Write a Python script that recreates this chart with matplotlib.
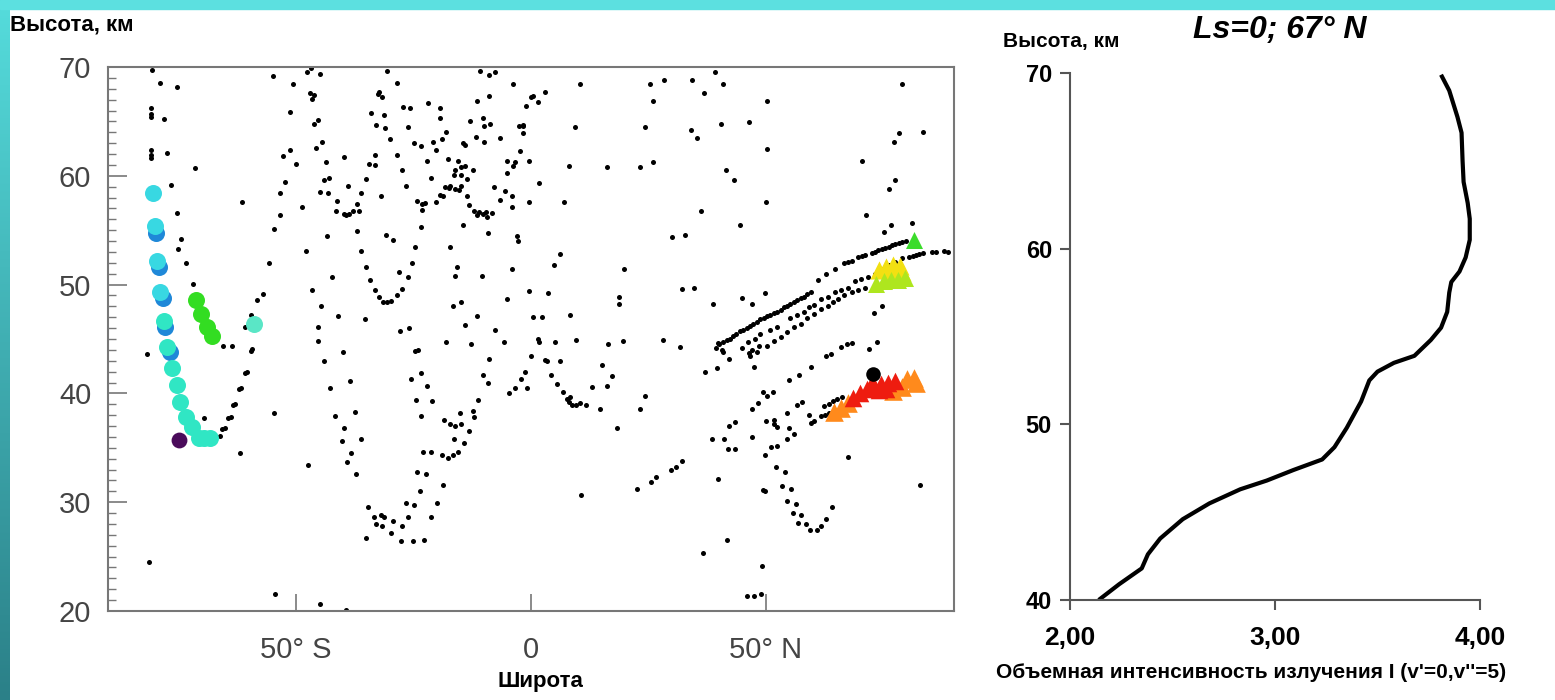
import numpy as np
import matplotlib.pyplot as plt
from matplotlib.colors import LinearSegmentedColormap
from matplotlib.patches import Rectangle

plt.rcParams['font.family'] = ['Liberation Sans', 'DejaVu Sans']

# ---- left panel: black sounding points (latitude, altitude km) ----
dots_south = np.array([
    (-80.6, 69.7), (-78.9, 68.5), (-75.3, 68.2), (-80.8, 66.2), (-80.8, 65.7), (-80.8, 65.4),
    (-78.0, 65.2), (-80.8, 62.4), (-80.8, 61.9), (-80.8, 61.6), (-77.4, 62.1), (-71.4, 60.7),
    (-76.5, 59.2), (-75.3, 56.6), (-74.5, 54.2), (-75.1, 53.3), (-73.4, 52.0), (-72.0, 50.1),
    (-61.5, 57.6), (-60.8, 46.1), (-59.6, 47.2), (-58.4, 48.6), (-57.0, 49.1), (-55.7, 52.0),
    (-54.7, 55.1), (-53.5, 56.4), (-53.5, 58.4), (-52.4, 59.4), (-52.8, 61.8), (-51.3, 62.4),
    (-50.1, 61.1), (-48.8, 57.1), (-54.9, 69.2), (-50.7, 68.4), (-51.2, 65.9), (-47.6, 69.5),
    (-46.8, 69.9), (-44.8, 69.4), (-47.1, 67.6), (-46.6, 67.1), (-46.1, 67.4), (-46.1, 64.8),
    (-45.4, 65.1), (-45.8, 62.6), (-44.5, 63.1), (-43.7, 61.3), (-44.0, 59.6), (-43.0, 59.8),
    (-44.8, 58.5), (-43.2, 58.4), (-39.8, 61.7), (-41.3, 57.7), (-41.4, 56.8), (-39.8, 56.5),
    (-39.3, 56.4), (-38.8, 56.5), (-37.9, 56.8), (-37.1, 57.4), (-36.6, 56.8), (-39.0, 59.1),
    (-36.2, 58.4), (-35.2, 59.7), (-34.4, 61.1), (-33.1, 61.0), (-33.1, 61.9), (-43.5, 54.5),
    (-47.8, 53.1), (-37.1, 54.9), (-36.2, 53.1), (-35.2, 51.6), (-34.2, 50.4), (-33.2, 49.5),
    (-32.4, 48.9), (-31.5, 48.4), (-30.6, 48.4), (-29.8, 48.5), (-28.5, 49.0), (-27.4, 49.6),
    (-28.1, 51.2), (-26.2, 50.7), (-25.3, 52.0), (-30.8, 54.6), (-29.4, 54.1), (-42.3, 50.7),
    (-46.5, 49.5), (-44.7, 48.0), (-41.0, 47.1), (-35.3, 46.8), (-45.3, 46.1), (-27.8, 45.7),
    (-25.9, 46.0), (-30.6, 69.6), (-28.5, 68.5), (-32.4, 67.7), (-32.5, 67.5), (-31.7, 67.2),
    (-34.0, 65.8), (-31.3, 65.6), (-32.9, 64.7), (-31.0, 64.4), (-29.9, 63.4), (-28.6, 61.9),
    (-27.5, 60.5), (-26.5, 59.1), (-31.9, 58.1), (-27.2, 66.3), (-25.8, 66.2), (-26.1, 64.5),
    (-22.0, 66.7), (-19.3, 66.2), (-19.3, 65.3), (-24.8, 63.0), (-23.3, 62.7), (-22.1, 61.4),
    (-21.3, 59.8), (-24.2, 57.7), (-23.2, 57.4), (-22.5, 57.5), (-20.2, 57.6), (-23.2, 56.9),
    (-23.3, 55.3), (-24.6, 53.5), (-19.3, 58.2), (-18.7, 58.1), (-18.2, 59.0), (-17.5, 58.9),
    (-17.2, 59.1), (-16.1, 58.8), (-15.4, 58.7), (-14.8, 59.1), (-13.6, 58.1), (-13.7, 59.7),
    (-15.0, 60.1), (-16.1, 60.5), (-16.4, 60.1), (-15.5, 61.4), (-14.9, 60.8), (-14.0, 60.9),
    (-12.3, 60.5), (-13.1, 57.3), (-12.2, 56.8), (-11.1, 56.7), (-10.2, 56.5), (-9.5, 56.7),
    (-9.4, 56.2), (-8.2, 56.6), (-11.5, 56.4), (-18.9, 63.4), (-18.1, 64.0), (-20.8, 63.1),
    (-20.2, 62.4), (-17.7, 61.5), (-14.5, 55.5), (-17.3, 53.5), (-16.1, 50.8), (-15.7, 51.6),
    (-16.7, 48.0), (-14.9, 48.4), (-11.5, 47.1), (-14.0, 46.3), (-7.7, 45.8), (-10.4, 50.8),
    (-9.1, 54.7), (-7.8, 59.0), (-6.5, 57.8), (-5.5, 58.6), (-5.2, 60.3), (-5.1, 61.4),
    (-3.8, 60.9), (-3.3, 61.3), (-4.0, 58.1), (-4.0, 57.1), (-3.0, 54.5), (-2.8, 54.0),
    (-4.0, 51.4), (-5.1, 48.7), (-13.0, 65.0), (-11.5, 66.9), (-10.2, 65.3), (-10.1, 64.6),
    (-8.8, 64.8), (-11.6, 63.6), (-10.1, 63.1), (-9.0, 67.3), (-6.7, 63.5), (-3.8, 68.4),
    (-10.8, 69.6), (-9.0, 69.3), (-7.6, 69.5), (-2.6, 64.6), (-1.6, 64.6), (-1.7, 63.9),
    (-2.3, 62.3), (-14.5, 63.0), (-14.0, 62.8),
])

dots_north = np.array([
    (-1.1, 66.4), (-0.1, 67.2), (0.4, 67.3), (1.4, 66.8), (3.0, 67.7), (10.4, 68.4),
    (-1.7, 64.7), (-0.4, 61.4), (1.7, 59.3), (-0.4, 57.6), (7.0, 57.6), (8.1, 60.9),
    (9.4, 64.5), (16.2, 60.8), (23.1, 60.8), (26.0, 61.3), (24.3, 64.5), (25.3, 68.4),
    (28.3, 68.8), (26.0, 66.9), (34.3, 68.8), (39.2, 69.5), (40.9, 68.4), (36.8, 67.6),
    (34.0, 64.2), (35.4, 63.5), (40.4, 64.8), (46.4, 64.9), (50.3, 66.9), (50.3, 62.5),
    (41.4, 60.5), (43.2, 59.6), (49.9, 57.6), (36.1, 56.8), (44.5, 55.5), (29.9, 54.4),
    (32.7, 54.6), (6.1, 52.8), (4.8, 51.8), (19.8, 51.4), (-0.4, 49.4), (3.7, 49.2),
    (0.5, 47.0), (2.3, 47.0), (8.4, 47.2), (18.7, 48.9), (18.7, 48.2), (32.2, 49.6),
    (34.7, 49.7), (38.8, 48.2), (44.9, 48.8), (47.1, 48.2), (49.7, 49.2), (79.0, 68.4),
    (78.3, 63.9), (77.2, 63.1), (83.4, 64.0), (70.5, 61.4), (77.4, 59.6), (76.2, 58.8),
    (71.3, 56.4), (76.5, 55.5), (75.1, 54.8), (81.1, 55.7), (73.0, 47.4), (74.6, 48.0),
    (85.3, 53.0), (87.9, 53.1),
])

dots_low_south = np.array([
    (-81.7, 43.6), (-81.2, 24.5), (-65.5, 44.4), (-63.7, 44.4), (-59.3, 44.1), (-59.6, 43.9),
    (-60.4, 42.0), (-60.8, 41.9), (-61.8, 40.5), (-62.2, 40.4), (-62.9, 39.0), (-63.4, 38.9),
    (-63.9, 37.8), (-64.5, 37.7), (-65.2, 36.8), (-65.7, 36.7), (-66.1, 36.1), (-69.5, 37.7),
    (-62.0, 34.5), (-54.6, 38.2), (-54.5, 21.6), (-44.8, 20.6), (-39.4, 20.1), (-47.5, 33.4),
    (-45.3, 44.8), (-44.1, 43.0), (-39.9, 43.8), (-42.8, 40.5), (-38.6, 41.1), (-41.6, 37.9),
    (-37.5, 38.3), (-39.7, 36.8), (-40.3, 35.6), (-36.1, 35.8), (-38.4, 34.5), (-39.1, 33.7),
    (-37.2, 32.6), (-18.1, 44.7), (-12.7, 44.5), (-5.8, 44.7), (-24.6, 43.9), (-24.1, 44.0),
    (-25.5, 41.3), (-23.4, 41.9), (-22.1, 40.7), (-24.4, 39.4), (-21.0, 39.3), (-23.3, 37.9),
    (-18.6, 37.6), (-17.3, 37.2), (-16.1, 37.0), (-14.9, 37.2), (-15.2, 38.2), (-12.4, 38.4),
    (-12.2, 37.8), (-13.2, 36.5), (-14.3, 35.4), (-16.4, 35.8), (-15.6, 34.6), (-16.6, 34.3),
    (-17.7, 34.1), (-18.9, 34.3), (-21.2, 34.6), (-23.0, 34.6), (-24.2, 32.8), (-22.3, 32.6),
    (-18.8, 31.6), (-23.7, 31.0), (-26.7, 29.9), (-24.8, 29.7), (-20.1, 29.9), (-21.3, 28.6),
    (-26.2, 28.6), (-27.4, 27.8), (-29.4, 28.3), (-31.3, 28.6), (-32.0, 28.8), (-33.5, 28.6),
    (-32.9, 28.0), (-31.7, 27.8), (-34.7, 29.6), (-35.2, 26.7), (-29.8, 27.2), (-27.6, 26.4),
    (-25.1, 26.4), (-22.7, 26.5), (-11.3, 39.4), (-8.9, 43.2), (-10.3, 41.7), (-9.2, 41.0),
    (-4.6, 40.0), (-3.3, 40.5), (-2.1, 41.3), (-1.2, 42.0),
])

dots_low_north = np.array([
    (1.4, 45.0), (1.8, 44.7), (0.1, 43.4), (-0.8, 40.5), (3.0, 43.1), (3.4, 43.0),
    (4.2, 41.7), (5.6, 40.9), (6.2, 43.0), (5.1, 44.7), (9.6, 44.9), (6.9, 40.1),
    (7.6, 39.5), (8.3, 39.7), (8.1, 39.2), (8.8, 38.9), (9.5, 38.9), (10.4, 39.1),
    (11.6, 38.9), (12.9, 40.6), (14.6, 38.6), (15.2, 42.6), (16.2, 40.7), (17.3, 41.6),
    (16.4, 44.5), (19.6, 44.8), (18.2, 36.8), (10.6, 30.7), (23.2, 38.6), (24.3, 39.8),
    (28.1, 44.9), (31.6, 44.3), (22.6, 31.2), (25.5, 31.9), (26.7, 32.3), (29.7, 33.0),
    (30.8, 33.2), (32.2, 33.8), (39.8, 32.1), (36.7, 25.3), (41.6, 26.5), (49.1, 24.1),
    (46.0, 21.4), (47.4, 21.4), (48.9, 21.6), (37.0, 42.0), (39.5, 42.3), (42.1, 43.2),
    (40.7, 44.0), (47.4, 42.4), (38.6, 35.8), (41.1, 35.8), (42.1, 37.0), (43.4, 37.4),
    (42.0, 34.9), (43.4, 34.9), (47.0, 36.0), (47.0, 38.6), (48.2, 39.1), (49.4, 40.1),
    (50.3, 39.8), (51.4, 40.1), (49.9, 37.5), (51.7, 37.6), (52.3, 36.9), (51.6, 37.2),
    (49.8, 34.3), (51.0, 35.1), (52.4, 35.2), (54.5, 38.2), (54.8, 36.8), (54.4, 35.8),
    (55.9, 36.3), (56.7, 38.9), (57.6, 39.2), (59.2, 38.0), (59.5, 37.3), (60.2, 37.5),
    (54.8, 41.2), (57.0, 41.7), (59.5, 42.4), (62.7, 43.4), (63.8, 43.6), (65.9, 44.3),
    (67.3, 44.5), (68.2, 44.6), (72.0, 44.1), (73.7, 44.7), (49.4, 31.1), (49.8, 31.0),
    (52.1, 33.2), (54.0, 32.8), (53.5, 31.5), (55.3, 31.2), (54.5, 30.1), (56.3, 29.8),
    (55.8, 29.0), (57.5, 28.8), (56.9, 28.1), (58.6, 28.0), (59.3, 27.4), (60.9, 27.4),
    (61.8, 27.8), (62.7, 28.5), (64.0, 29.6), (67.5, 34.2), (82.7, 31.6), (39.7, 44.6),
    (46.4, 43.7), (47.1, 44.0), (48.5, 44.4), (62.3, 38.8), (63.3, 39.0), (64.3, 39.3),
    (65.2, 39.5), (66.2, 39.7), (61.6, 37.9), (62.5, 38.0), (63.4, 38.2),
])

# three tracks of closely spaced points north of 40 N
band_upper = np.array([
    (39.4, 44.2), (40.1, 44.5), (40.9, 44.7), (41.6, 44.9), (42.3, 45.0), (43.0, 45.3),
    (43.7, 45.5), (44.5, 45.7), (45.2, 45.8), (45.9, 46.0), (46.6, 46.2), (47.3, 46.4),
    (48.0, 46.6), (48.8, 46.8), (49.5, 46.9), (50.2, 47.1), (50.9, 47.2), (51.6, 47.4),
    (52.4, 47.5), (53.1, 47.7), (53.8, 47.9), (54.5, 48.0), (55.2, 48.2), (56.0, 48.4),
    (56.7, 48.6), (57.4, 48.8), (58.1, 48.9), (58.8, 49.1), (59.6, 49.3), (61.0, 50.4),
    (62.8, 51.0), (64.6, 51.4), (66.7, 52.0), (67.5, 52.1), (68.2, 52.2), (69.6, 52.5),
    (70.4, 52.6), (71.1, 52.7), (72.5, 52.9), (73.2, 53.0), (73.9, 53.2), (74.7, 53.3),
    (75.4, 53.4), (76.1, 53.5), (76.8, 53.6), (77.5, 53.7), (78.3, 53.8), (79.0, 53.9),
    (79.7, 54.0),
])

band_middle = np.array([
    (40.9, 43.8), (44.8, 44.2), (46.2, 44.7), (47.7, 45.0), (48.8, 45.5), (50.9, 45.8),
    (52.4, 46.1), (55.2, 46.9), (56.7, 47.2), (58.1, 47.5), (59.2, 47.9), (60.3, 48.1),
    (61.7, 48.7), (63.1, 48.9), (64.6, 49.3), (66.0, 49.5), (67.5, 49.7), (68.9, 50.3),
    (70.3, 50.5), (71.8, 50.7), (73.2, 51.0), (74.7, 51.4), (76.1, 51.8), (77.5, 52.1),
    (79.0, 52.4), (80.4, 52.5), (81.2, 52.6), (81.9, 52.7), (82.6, 52.8), (83.3, 52.9),
    (86.2, 53.0), (88.7, 53.0),
])

band_lower = np.array([
    (46.6, 43.4), (48.0, 43.8), (50.2, 44.4), (51.6, 44.8), (53.1, 45.2), (54.5, 45.6),
    (56.0, 46.1), (57.4, 46.4), (58.8, 46.9), (60.3, 47.3), (61.7, 47.8), (63.1, 48.0),
    (64.2, 48.4), (65.3, 48.7), (66.7, 49.0), (68.2, 49.3), (69.6, 49.5), (71.1, 49.7),
])

# coloured markers
circ_blue = np.array([(-79.7, 54.7), (-79.1, 51.6), (-78.3, 48.8), (-77.8, 46.1), (-76.9, 43.8)])
circ_cyan = np.array([(-80.5, 58.4), (-80.0, 55.4), (-79.5, 52.2), (-78.9, 49.3)])
circ_teal = np.array([
    (-78.1, 46.7), (-77.4, 44.3), (-76.3, 42.3), (-75.4, 40.8), (-74.6, 39.2),
    (-73.4, 37.8), (-72.1, 36.9), (-70.7, 35.9), (-69.5, 35.9), (-68.3, 35.9),
])
circ_green = np.array([(-71.3, 48.6), (-70.2, 47.3), (-69.0, 46.1), (-67.9, 45.3)])
circ_single = np.array([(-58.9, 46.4)])
circ_purple = np.array([(-75.0, 35.7)])
circ_black = np.array([(72.7, 41.8)])

tri_green = np.array([(81.5, 54.1)])
tri_yellow = np.array([(74.0, 51.3), (75.5, 51.6), (77.0, 51.8), (78.5, 51.7),
                       (76.0, 50.9), (77.5, 51.0), (79.0, 51.2)])
tri_lime = np.array([(73.5, 50.1), (75.0, 50.3), (76.5, 50.4), (78.0, 50.4), (79.5, 50.6)])
tri_orange = np.array([(64.5, 38.3), (66.0, 38.7), (67.5, 39.1), (80.0, 41.3), (81.5, 41.4),
                       (82.0, 41.0), (79.0, 40.6), (77.0, 40.2)])
tri_red = np.array([(68.5, 39.6), (70.0, 40.0), (71.5, 40.4), (73.0, 40.7), (74.5, 40.9),
                    (76.0, 41.0), (77.5, 41.1), (72.5, 41.0), (74.0, 40.3), (75.5, 40.4)])

# ---- right panel: emission profile at Ls=0, 67 N ----
intensity = [3.81, 3.85, 3.89, 3.91, 3.915, 3.92, 3.94, 3.95, 3.95, 3.93, 3.90, 3.86, 3.85,
             3.84, 3.81, 3.76, 3.68, 3.58, 3.50, 3.46, 3.42, 3.35, 3.29, 3.23, 3.09, 2.96,
             2.83, 2.68, 2.55, 2.44, 2.38, 2.35, 2.24, 2.14]
height = [69.9, 69.0, 67.5, 66.6, 65.0, 63.8, 62.6, 61.7, 60.5, 59.5, 58.7, 58.1, 57.5,
          56.4, 55.5, 54.8, 53.9, 53.5, 53.0, 52.5, 51.3, 49.8, 48.7, 48.0, 47.4, 46.8,
          46.3, 45.5, 44.6, 43.5, 42.6, 41.8, 40.9, 40.0]

W, H = 1555, 700
fig = plt.figure(figsize=(W / 100, H / 100), dpi=100)

# teal frame of the slide
bg = fig.add_axes([0, 0, 10 / W, 1])
grad = np.linspace(0, 1, 256).reshape(-1, 1)
bg.imshow(grad, aspect='auto', cmap=LinearSegmentedColormap.from_list('fr', ['#55dcdc', '#2b8088']))
bg.axis('off')
fig.patches.append(Rectangle((0, 1 - 9 / H), 1, 9 / H, transform=fig.transFigure,
                             color='#5ce0e0', zorder=5))

# ---- left panel ----
ax = fig.add_axes([108 / W, 1 - 611 / H, 846 / W, 544 / H])
for d in (dots_south, dots_north, dots_low_south, dots_low_north, band_upper, band_middle, band_lower):
    ax.scatter(d[:, 0], d[:, 1], s=13, c='black', lw=0, zorder=2)

ax.scatter(circ_blue[:, 0], circ_blue[:, 1], s=150, c='#1f88d8', lw=0, zorder=3)
ax.scatter(circ_cyan[:, 0], circ_cyan[:, 1], s=150, c='#38d8e2', lw=0, zorder=4)
ax.scatter(circ_teal[:, 0], circ_teal[:, 1], s=150, c='#30e6c4', lw=0, zorder=4)
ax.scatter(circ_green[:, 0], circ_green[:, 1], s=150, c='#33dd22', lw=0, zorder=4)
ax.scatter(circ_single[:, 0], circ_single[:, 1], s=150, c='#5ae6c6', lw=0, zorder=4)
ax.scatter(circ_purple[:, 0], circ_purple[:, 1], s=130, c='#4a0b5a', lw=0, zorder=4)

ax.scatter(tri_green[:, 0], tri_green[:, 1], s=150, marker='^', c='#3cdc2c', lw=0, zorder=4)
ax.scatter(tri_yellow[:, 0], tri_yellow[:, 1], s=170, marker='^', c='#f2e012', lw=0, zorder=4)
ax.scatter(tri_lime[:, 0], tri_lime[:, 1], s=150, marker='^', c='#aee61e', lw=0, zorder=5)
ax.scatter(tri_orange[:, 0], tri_orange[:, 1], s=180, marker='^', c='#ff8a1c', lw=0, zorder=4)
ax.scatter(tri_red[:, 0], tri_red[:, 1], s=160, marker='^', c='#ee1c10', lw=0, zorder=5)
ax.scatter(circ_black[:, 0], circ_black[:, 1], s=110, c='black', lw=0, zorder=6)

ax.set_xlim(-90, 90)
ax.set_ylim(20, 70)
ax.set_xticks([-50, 0, 50])
ax.set_xticklabels(['50° S', '0', '50° N'])
ax.set_yticks(range(20, 71, 10))
ax.set_yticks(range(20, 71), minor=True)
ax.tick_params(axis='x', direction='in', length=12, width=1.2, color='#777',
               labelsize=21, labelcolor='#444', pad=18)
ax.tick_params(axis='y', which='major', direction='in', length=14, width=1.2, color='#777',
               labelsize=21, labelcolor='#444', pad=12)
ax.tick_params(axis='y', which='minor', direction='in', length=6, width=1, color='#777')
for sp in ax.spines.values():
    sp.set_color('#777')
    sp.set_linewidth(1.5)

fig.text(10 / W, 1 - 25 / H, 'Высота, км', fontsize=16, fontweight='bold', va='center')
fig.text(540 / W, 1 - 681 / H, 'Широта', fontsize=16, fontweight='bold', ha='center', va='center')

# ---- right panel ----
ax2 = fig.add_axes([1070 / W, 1 - 600 / H, 410 / W, 527 / H])
ax2.plot(intensity, height, color='black', lw=3, solid_capstyle='butt')
ax2.set_xlim(2, 4)
ax2.set_ylim(40, 70)
ax2.set_xticks([2, 3, 4])
ax2.set_xticklabels(['2,00', '3,00', '4,00'])
ax2.set_yticks([40, 50, 60, 70])
ax2.spines['top'].set_visible(False)
ax2.spines['right'].set_visible(False)
for sp in ('left', 'bottom'):
    ax2.spines[sp].set_color('#555')
    ax2.spines[sp].set_linewidth(1.5)
ax2.tick_params(axis='both', direction='out', length=7, width=1.5, color='#555')
ax2.tick_params(axis='x', labelsize=19, pad=12)
ax2.tick_params(axis='y', labelsize=17, pad=6)
for lab in ax2.get_xticklabels() + ax2.get_yticklabels():
    lab.set_fontweight('bold')

fig.text(1003 / W, 1 - 42 / H, 'Высота, км', fontsize=15, fontweight='bold', va='center')
fig.text(1280 / W, 1 - 30 / H, 'Ls=0; 67° N', fontsize=23, fontweight='bold',
         style='italic', ha='center', va='center')
fig.text(1251 / W, 1 - 672 / H, "Объемная интенсивность излучения I (v'=0,v''=5)",
         fontsize=15, fontweight='bold', ha='center', va='center')

fig.savefig('out.png', dpi=100, facecolor='white')
